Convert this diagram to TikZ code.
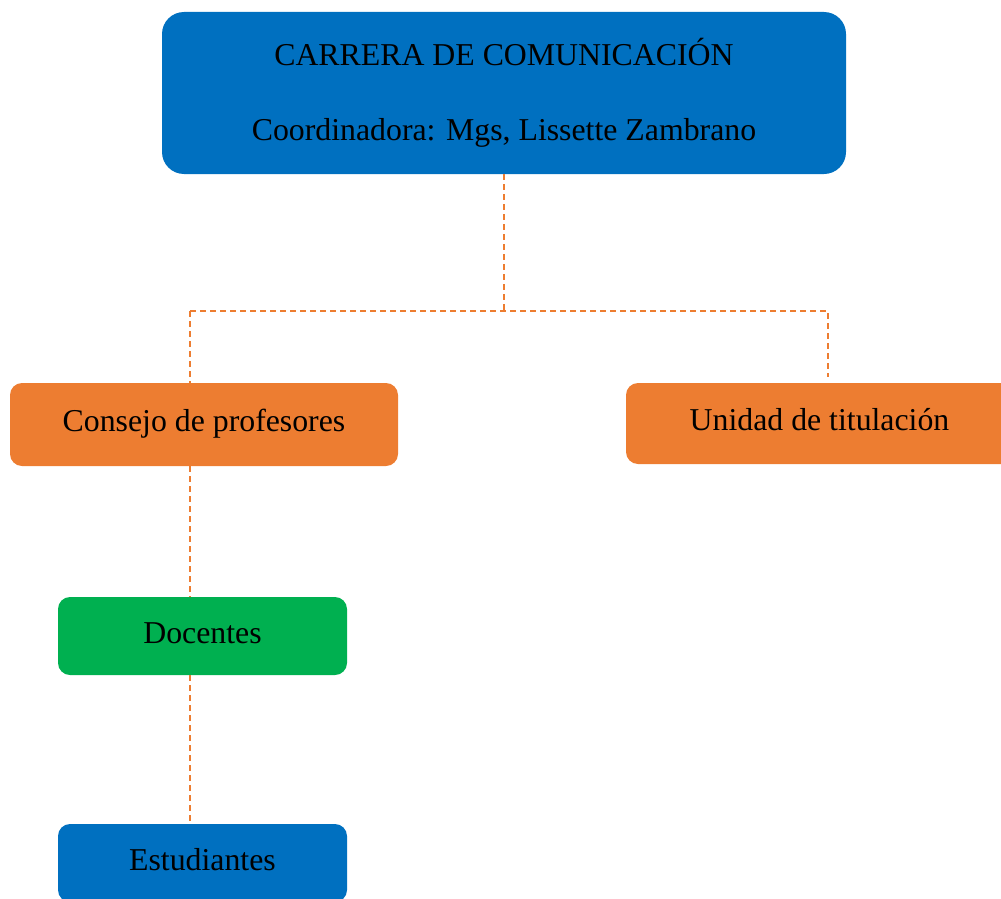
\documentclass[tikz,border=0pt]{standalone}
\usepackage{fontspec}
\setmainfont{Liberation Serif}
\usepackage{tikz}
\usepackage{xcolor}
\definecolor{azul}{HTML}{0070C0}
\definecolor{naranja}{HTML}{ED7D31}
\definecolor{verde}{HTML}{00B050}

\begin{document}
\begin{tikzpicture}[x=1pt, y=-1pt,
  caja/.style={rectangle, rounded corners=12pt, inner sep=0pt, align=center,
    font=\fontsize{31.8}{38}\selectfont},
  linea/.style={caja, text height=21.5pt, text depth=7pt},
  enlace/.style={draw=naranja, line width=1.8pt, dash pattern=on 6pt off 4pt}]
\useasboundingbox (0,0) rectangle (1001,899);
\node[caja, fill=azul, rounded corners=22pt, minimum width=684pt, minimum height=162pt] (carrera) at (504,93)
  {CARRERA DE COMUNICACIÓN\\[37pt]Coordinadora: Mgs, Lissette Zambrano};
\node[linea, fill=naranja, minimum width=388pt, minimum height=83pt] (consejo) at (204,424.5) {Consejo de profesores};
\node[linea, fill=naranja, minimum width=387pt, minimum height=81pt] (unidad) at (819.5,423.5) {Unidad de titulación};
\node[linea, fill=verde, minimum width=289pt, minimum height=78pt] (docentes) at (202.5,636) {Docentes};
\node[linea, fill=azul, minimum width=289pt, minimum height=78pt] (estudiantes) at (202.5,863) {Estudiantes};
\coordinate (izq) at (190,311);
\coordinate (der) at (828,311);
\coordinate (finder) at (828,377);
\draw[enlace] (carrera.south) -- (carrera.south |- izq);
\draw[enlace] (izq) -- (der) -- (finder);
\draw[enlace] (izq) -- (izq |- consejo.north);
\draw[enlace] (izq |- consejo.south) -- (izq |- docentes.north);
\draw[enlace] (izq |- docentes.south) -- (izq |- estudiantes.north);
\end{tikzpicture}
\end{document}
